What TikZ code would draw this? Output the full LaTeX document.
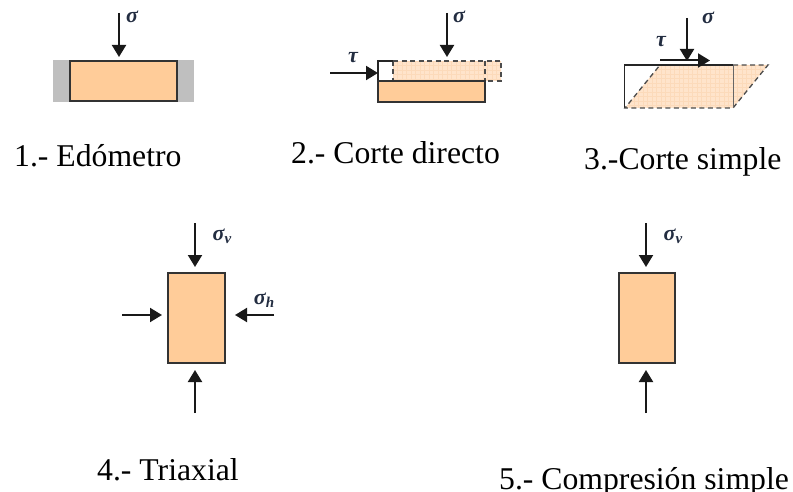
\documentclass[tikz,border=0pt]{standalone}
\usepackage{fontspec}
\setmainfont{Liberation Serif}
\usetikzlibrary{arrows.meta}
\definecolor{soil}{RGB}{255,204,153}
\definecolor{soilL}{RGB}{255,228,203}
\definecolor{soilG}{RGB}{252,218,186}
\definecolor{lab}{RGB}{35,45,65}
\tikzset{
  x=1pt,y=-1pt,
  force/.style={draw=black!90,line width=2pt,-{Triangle[length=12pt,width=14pt]}},
  sample/.style={draw=black!80,line width=1.3pt,fill=soil},
  wall/.style={draw=black!85,line width=1.3pt},
  trail/.style={draw=black!70,line width=1.3pt,dash pattern=on 5pt off 3.5pt},
  mesh/.style={draw=soilG,line width=.4pt},
  cap1/.style={font=\fontsize{31.7}{34}\selectfont,anchor=base west,inner sep=0pt},
  sym/.style={font=\bfseries\itshape\fontsize{22}{23}\selectfont,text=lab,inner sep=0pt},
}
\newcommand{\subs}[1]{\raisebox{-3pt}{\fontsize{15}{15}\selectfont #1}}
\begin{document}
\begin{tikzpicture}
\useasboundingbox (0,0) rectangle (793,492);
% 1 Edometro
\fill[black!25] (53,60) rectangle (194,102);
\draw[sample] (70,61) rectangle (177,101);
\coordinate (a1) at (119,13); \coordinate (a2) at (119,57);
\draw[force] (a1) -- (a2);
\node[sym] (as) at (132,17) {σ};
\node[cap1] (at) at (14,167) {1.- Edómetro};
% 2 Corte directo
\fill[soilL] (393,61) rectangle (501,81);
\begin{scope}
\clip (393,61) rectangle (501,81);
\foreach \gx in {393,397.5,...,501} \draw[mesh] (\gx,61) -- (\gx,81);
\foreach \gy in {61,65.5,...,81} \draw[mesh] (393,\gy) -- (501,\gy);
\end{scope}
\draw[trail] (393,61) -- (501,61) -- (501,81) -- (485,81);
\draw[trail] (393,61) -- (393,81);
\draw[trail] (485,61) -- (485,81);
\draw[wall] (393,61) -- (378,61) -- (378,81) -- (393,81);
\draw[sample] (378,81) rectangle (485,102);
\coordinate (b1) at (447,13); \coordinate (b2) at (447,57);
\draw[force] (b1) -- (b2);
\coordinate (b3) at (330,73); \coordinate (b4) at (378,73);
\draw[force] (b3) -- (b4);
\node[sym] (bs) at (459,17) {σ};
\node[sym] (bt) at (353,58) {τ};
\node[cap1] (bc) at (291,164) {2.- Corte directo};
% 3 Corte simple
\fill[soilL] (625,108) -- (660,65) -- (768,65) -- (733,108) -- cycle;
\begin{scope}
\clip (625,108) -- (660,65) -- (768,65) -- (733,108) -- cycle;
\foreach \gx in {625,629.5,...,770} \draw[mesh] (\gx,65) -- (\gx,108);
\foreach \gy in {65,69.5,...,108} \draw[mesh] (620,\gy) -- (770,\gy);
\end{scope}
\draw[wall] (733,65) -- (624.5,65) -- (624.5,108);
\draw[trail] (733,65) -- (768,65) -- (733,108) -- (625,108) -- (660,65);
\draw[black!60,line width=.9pt] (733,65) -- (733,108);
\coordinate (c1) at (687,18); \coordinate (c2) at (687,61);
\draw[force] (c1) -- (c2);
\coordinate (c3) at (660,60.5); \coordinate (c4) at (710,60.5);
\draw[force] (c3) -- (c4);
\node[sym] (cs) at (708,18) {σ};
\node[sym] (ct) at (661,42) {τ};
\node[cap1] (cc) at (584,170) {3.-Corte simple};
% 4 Triaxial
\draw[sample] (168,273) rectangle (225,363);
\coordinate (d1) at (195,223); \coordinate (d2) at (195,267);
\draw[force] (d1) -- (d2);
\coordinate (d3) at (195,413); \coordinate (d4) at (195,370);
\draw[force] (d3) -- (d4);
\coordinate (d5) at (122,315); \coordinate (d6) at (162,315);
\draw[force] (d5) -- (d6);
\coordinate (d7) at (274,315); \coordinate (d8) at (235,315);
\draw[force] (d7) -- (d8);
\node[sym] (ds) at (222,236) {σ\subs{v}};
\node[sym] (dh) at (264,300) {σ\subs{h}};
\node[cap1] (dc) at (97,480) {4.- Triaxial};
% 5 Compresion simple
\draw[sample] (619,273) rectangle (675,363);
\coordinate (e1) at (646,223); \coordinate (e2) at (646,267);
\draw[force] (e1) -- (e2);
\coordinate (e3) at (646,413); \coordinate (e4) at (646,370);
\draw[force] (e3) -- (e4);
\node[sym] (es) at (673,236) {σ\subs{v}};
\node[cap1] (ec) at (499,489) {5.- Compresión simple};
\end{tikzpicture}
\end{document}
